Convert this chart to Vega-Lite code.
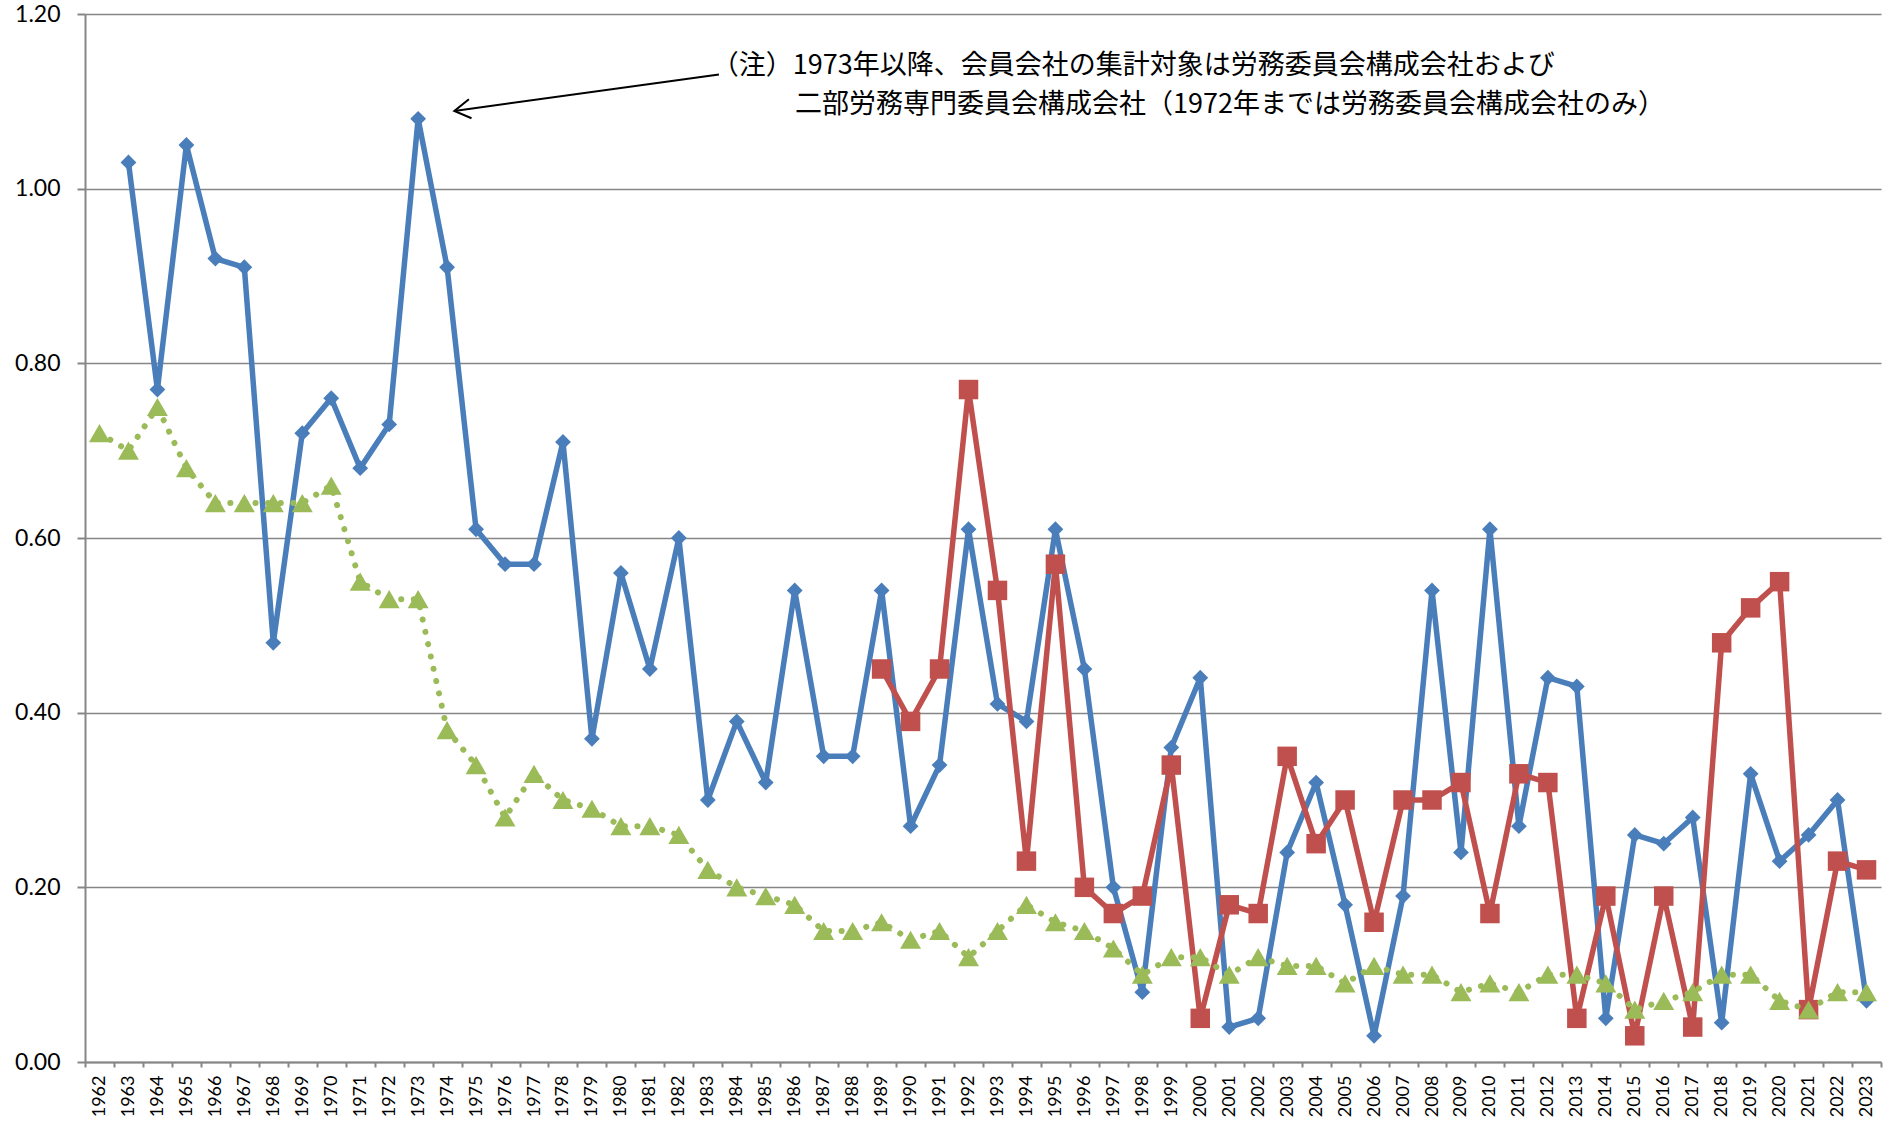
{
  "$schema": "https://vega.github.io/schema/vega-lite/v6.json",
  "width": 1796,
  "height": 1048,
  "autosize": {"type": "none"},
  "padding": {"left": 85, "top": 14, "right": 7, "bottom": 63},
  "background": "white",
  "config": {
    "view": {"stroke": null},
    "axis": {
      "domainColor": "#868686",
      "domainWidth": 2,
      "tickColor": "#868686",
      "tickWidth": 2,
      "gridColor": "#868686",
      "gridWidth": 1.5,
      "labelColor": "#000000",
      "labelFont": "Lato"
    }
  },
  "datasets": {
    "series": [
      {"s": "系列1", "year": 1963, "value": 1.03}, {"s": "系列1", "year": 1964, "value": 0.77}, {"s": "系列1", "year": 1965, "value": 1.05},
      {"s": "系列1", "year": 1966, "value": 0.92}, {"s": "系列1", "year": 1967, "value": 0.91}, {"s": "系列1", "year": 1968, "value": 0.48},
      {"s": "系列1", "year": 1969, "value": 0.72}, {"s": "系列1", "year": 1970, "value": 0.76}, {"s": "系列1", "year": 1971, "value": 0.68},
      {"s": "系列1", "year": 1972, "value": 0.73}, {"s": "系列1", "year": 1973, "value": 1.08}, {"s": "系列1", "year": 1974, "value": 0.91},
      {"s": "系列1", "year": 1975, "value": 0.61}, {"s": "系列1", "year": 1976, "value": 0.57}, {"s": "系列1", "year": 1977, "value": 0.57},
      {"s": "系列1", "year": 1978, "value": 0.71}, {"s": "系列1", "year": 1979, "value": 0.37}, {"s": "系列1", "year": 1980, "value": 0.56},
      {"s": "系列1", "year": 1981, "value": 0.45}, {"s": "系列1", "year": 1982, "value": 0.60}, {"s": "系列1", "year": 1983, "value": 0.30},
      {"s": "系列1", "year": 1984, "value": 0.39}, {"s": "系列1", "year": 1985, "value": 0.32}, {"s": "系列1", "year": 1986, "value": 0.54},
      {"s": "系列1", "year": 1987, "value": 0.35}, {"s": "系列1", "year": 1988, "value": 0.35}, {"s": "系列1", "year": 1989, "value": 0.54},
      {"s": "系列1", "year": 1990, "value": 0.27}, {"s": "系列1", "year": 1991, "value": 0.34}, {"s": "系列1", "year": 1992, "value": 0.61},
      {"s": "系列1", "year": 1993, "value": 0.41}, {"s": "系列1", "year": 1994, "value": 0.39}, {"s": "系列1", "year": 1995, "value": 0.61},
      {"s": "系列1", "year": 1996, "value": 0.45}, {"s": "系列1", "year": 1997, "value": 0.20}, {"s": "系列1", "year": 1998, "value": 0.08},
      {"s": "系列1", "year": 1999, "value": 0.36}, {"s": "系列1", "year": 2000, "value": 0.44}, {"s": "系列1", "year": 2001, "value": 0.04},
      {"s": "系列1", "year": 2002, "value": 0.05}, {"s": "系列1", "year": 2003, "value": 0.24}, {"s": "系列1", "year": 2004, "value": 0.32},
      {"s": "系列1", "year": 2005, "value": 0.18}, {"s": "系列1", "year": 2006, "value": 0.03}, {"s": "系列1", "year": 2007, "value": 0.19},
      {"s": "系列1", "year": 2008, "value": 0.54}, {"s": "系列1", "year": 2009, "value": 0.24}, {"s": "系列1", "year": 2010, "value": 0.61},
      {"s": "系列1", "year": 2011, "value": 0.27}, {"s": "系列1", "year": 2012, "value": 0.44}, {"s": "系列1", "year": 2013, "value": 0.43},
      {"s": "系列1", "year": 2014, "value": 0.05}, {"s": "系列1", "year": 2015, "value": 0.26}, {"s": "系列1", "year": 2016, "value": 0.25},
      {"s": "系列1", "year": 2017, "value": 0.28}, {"s": "系列1", "year": 2018, "value": 0.045}, {"s": "系列1", "year": 2019, "value": 0.33},
      {"s": "系列1", "year": 2020, "value": 0.23}, {"s": "系列1", "year": 2021, "value": 0.26}, {"s": "系列1", "year": 2022, "value": 0.30},
      {"s": "系列1", "year": 2023, "value": 0.07},

      {"s": "系列2", "year": 1989, "value": 0.45}, {"s": "系列2", "year": 1990, "value": 0.39}, {"s": "系列2", "year": 1991, "value": 0.45},
      {"s": "系列2", "year": 1992, "value": 0.77}, {"s": "系列2", "year": 1993, "value": 0.54}, {"s": "系列2", "year": 1994, "value": 0.23},
      {"s": "系列2", "year": 1995, "value": 0.57}, {"s": "系列2", "year": 1996, "value": 0.20}, {"s": "系列2", "year": 1997, "value": 0.17},
      {"s": "系列2", "year": 1998, "value": 0.19}, {"s": "系列2", "year": 1999, "value": 0.34}, {"s": "系列2", "year": 2000, "value": 0.05},
      {"s": "系列2", "year": 2001, "value": 0.18}, {"s": "系列2", "year": 2002, "value": 0.17}, {"s": "系列2", "year": 2003, "value": 0.35},
      {"s": "系列2", "year": 2004, "value": 0.25}, {"s": "系列2", "year": 2005, "value": 0.30}, {"s": "系列2", "year": 2006, "value": 0.16},
      {"s": "系列2", "year": 2007, "value": 0.30}, {"s": "系列2", "year": 2008, "value": 0.30}, {"s": "系列2", "year": 2009, "value": 0.32},
      {"s": "系列2", "year": 2010, "value": 0.17}, {"s": "系列2", "year": 2011, "value": 0.33}, {"s": "系列2", "year": 2012, "value": 0.32},
      {"s": "系列2", "year": 2013, "value": 0.05}, {"s": "系列2", "year": 2014, "value": 0.19}, {"s": "系列2", "year": 2015, "value": 0.03},
      {"s": "系列2", "year": 2016, "value": 0.19}, {"s": "系列2", "year": 2017, "value": 0.04}, {"s": "系列2", "year": 2018, "value": 0.48},
      {"s": "系列2", "year": 2019, "value": 0.52}, {"s": "系列2", "year": 2020, "value": 0.55}, {"s": "系列2", "year": 2021, "value": 0.06},
      {"s": "系列2", "year": 2022, "value": 0.23}, {"s": "系列2", "year": 2023, "value": 0.22},

      {"s": "系列3", "year": 1962, "value": 0.72}, {"s": "系列3", "year": 1963, "value": 0.70}, {"s": "系列3", "year": 1964, "value": 0.75},
      {"s": "系列3", "year": 1965, "value": 0.68}, {"s": "系列3", "year": 1966, "value": 0.64}, {"s": "系列3", "year": 1967, "value": 0.64},
      {"s": "系列3", "year": 1968, "value": 0.64}, {"s": "系列3", "year": 1969, "value": 0.64}, {"s": "系列3", "year": 1970, "value": 0.66},
      {"s": "系列3", "year": 1971, "value": 0.55}, {"s": "系列3", "year": 1972, "value": 0.53}, {"s": "系列3", "year": 1973, "value": 0.53},
      {"s": "系列3", "year": 1974, "value": 0.38}, {"s": "系列3", "year": 1975, "value": 0.34}, {"s": "系列3", "year": 1976, "value": 0.28},
      {"s": "系列3", "year": 1977, "value": 0.33}, {"s": "系列3", "year": 1978, "value": 0.30}, {"s": "系列3", "year": 1979, "value": 0.29},
      {"s": "系列3", "year": 1980, "value": 0.27}, {"s": "系列3", "year": 1981, "value": 0.27}, {"s": "系列3", "year": 1982, "value": 0.26},
      {"s": "系列3", "year": 1983, "value": 0.22}, {"s": "系列3", "year": 1984, "value": 0.20}, {"s": "系列3", "year": 1985, "value": 0.19},
      {"s": "系列3", "year": 1986, "value": 0.18}, {"s": "系列3", "year": 1987, "value": 0.15}, {"s": "系列3", "year": 1988, "value": 0.15},
      {"s": "系列3", "year": 1989, "value": 0.16}, {"s": "系列3", "year": 1990, "value": 0.14}, {"s": "系列3", "year": 1991, "value": 0.15},
      {"s": "系列3", "year": 1992, "value": 0.12}, {"s": "系列3", "year": 1993, "value": 0.15}, {"s": "系列3", "year": 1994, "value": 0.18},
      {"s": "系列3", "year": 1995, "value": 0.16}, {"s": "系列3", "year": 1996, "value": 0.15}, {"s": "系列3", "year": 1997, "value": 0.13},
      {"s": "系列3", "year": 1998, "value": 0.10}, {"s": "系列3", "year": 1999, "value": 0.12}, {"s": "系列3", "year": 2000, "value": 0.12},
      {"s": "系列3", "year": 2001, "value": 0.10}, {"s": "系列3", "year": 2002, "value": 0.12}, {"s": "系列3", "year": 2003, "value": 0.11},
      {"s": "系列3", "year": 2004, "value": 0.11}, {"s": "系列3", "year": 2005, "value": 0.09}, {"s": "系列3", "year": 2006, "value": 0.11},
      {"s": "系列3", "year": 2007, "value": 0.10}, {"s": "系列3", "year": 2008, "value": 0.10}, {"s": "系列3", "year": 2009, "value": 0.08},
      {"s": "系列3", "year": 2010, "value": 0.09}, {"s": "系列3", "year": 2011, "value": 0.08}, {"s": "系列3", "year": 2012, "value": 0.10},
      {"s": "系列3", "year": 2013, "value": 0.10}, {"s": "系列3", "year": 2014, "value": 0.09}, {"s": "系列3", "year": 2015, "value": 0.06},
      {"s": "系列3", "year": 2016, "value": 0.07}, {"s": "系列3", "year": 2017, "value": 0.08}, {"s": "系列3", "year": 2018, "value": 0.10},
      {"s": "系列3", "year": 2019, "value": 0.10}, {"s": "系列3", "year": 2020, "value": 0.07}, {"s": "系列3", "year": 2021, "value": 0.06},
      {"s": "系列3", "year": 2022, "value": 0.08}, {"s": "系列3", "year": 2023, "value": 0.08}
    ],
    "arrow": [
      {"year": 1974.25, "value": 1.089, "year2": 1983.385, "value2": 1.1308}
    ],
    "note": [
      {"year": 1983.14, "value": 1.1408, "label": "（注）1973年以降、会員会社の集計対象は労務委員会構成会社および"},
      {"year": 1986.01, "value": 1.0963, "label": "二部労務専門委員会構成会社（1972年までは労務委員会構成会社のみ）"}
    ]
  },
  "encoding": {
    "x": {
      "field": "year",
      "type": "quantitative",
      "scale": {"domain": [1961.5, 2023.5], "nice": false, "zero": false},
      "axis": {
        "title": null,
        "grid": false,
        "values": [1961.5, 1962.5, 1963.5, 1964.5, 1965.5, 1966.5, 1967.5, 1968.5, 1969.5, 1970.5, 1971.5, 1972.5, 1973.5, 1974.5, 1975.5, 1976.5, 1977.5, 1978.5, 1979.5, 1980.5, 1981.5, 1982.5, 1983.5, 1984.5, 1985.5, 1986.5, 1987.5, 1988.5, 1989.5, 1990.5, 1991.5, 1992.5, 1993.5, 1994.5, 1995.5, 1996.5, 1997.5, 1998.5, 1999.5, 2000.5, 2001.5, 2002.5, 2003.5, 2004.5, 2005.5, 2006.5, 2007.5, 2008.5, 2009.5, 2010.5, 2011.5, 2012.5, 2013.5, 2014.5, 2015.5, 2016.5, 2017.5, 2018.5, 2019.5, 2020.5, 2021.5, 2022.5, 2023.5],
        "labelExpr": "datum.value < 2023 ? format(datum.value + 0.5, 'd') : ''",
        "labelAngle": -90,
        "labelOffset": 14.484,
        "labelFontSize": 18,
        "labelPadding": 8,
        "tickSize": 5,
        "labelOverlap": false,
        "labelBound": false,
        "labelFlush": false
      }
    },
    "y": {
      "field": "value",
      "type": "quantitative",
      "scale": {"domain": [0, 1.2], "nice": false, "zero": true},
      "axis": {
        "title": null,
        "grid": true,
        "values": [0, 0.2, 0.4, 0.6, 0.8, 1.0, 1.2],
        "format": ".2f",
        "labelFontSize": 23,
        "labelPadding": 17,
        "tickSize": 8
      }
    }
  },
  "layer": [
    {
      "data": {"values": [{}]},
      "mark": {"type": "rule", "color": "#000000", "strokeWidth": 2},
      "encoding": {
        "x": {"datum": 1961.5, "type": "quantitative"},
        "x2": {"datum": 2023.5},
        "y": {"datum": 1.2, "type": "quantitative"}
      }
    },
    {
      "data": {"values": [{}]},
      "mark": {"type": "rule", "color": "#000000", "strokeWidth": 2},
      "encoding": {
        "x": {"datum": 2023.5, "type": "quantitative"},
        "y": {"datum": 0, "type": "quantitative"},
        "y2": {"datum": 1.2}
      }
    },
    {
      "data": {"name": "series"},
      "transform": [{"filter": "datum.s === '系列1'"}],
      "mark": {
        "type": "line",
        "color": "#4A7EBB",
        "strokeWidth": 5.5,
        "strokeJoin": "round",
        "point": {"shape": "diamond", "size": 250, "filled": true, "color": "#4A7EBB"}
      }
    },
    {
      "data": {"name": "series"},
      "transform": [{"filter": "datum.s === '系列2'"}],
      "mark": {
        "type": "line",
        "color": "#C0504D",
        "strokeWidth": 5.5,
        "strokeJoin": "round",
        "point": {"shape": "square", "size": 380, "filled": true, "color": "#C0504D"}
      }
    },
    {
      "data": {"name": "series"},
      "transform": [{"filter": "datum.s === '系列3'"}],
      "mark": {
        "type": "line",
        "color": "#9BBB59",
        "strokeWidth": 6,
        "strokeCap": "round",
        "strokeDash": [0.1, 12.5],
        "point": {"shape": "triangle-up", "size": 440, "filled": true, "color": "#9BBB59"}
      }
    },
    {
      "data": {"name": "arrow"},
      "mark": {"type": "rule", "color": "#000000", "strokeWidth": 2},
      "encoding": {
        "x2": {"field": "year2"},
        "y2": {"field": "value2"}
      }
    },
    {
      "data": {"name": "arrow"},
      "mark": {
        "type": "point",
        "shape": "M-1,-0.6L0,0L-1,0.6",
        "size": 1024,
        "filled": false,
        "color": "#000000",
        "strokeWidth": 2,
        "opacity": 1,
        "angle": 172.2
      }
    },
    {
      "data": {"name": "note"},
      "mark": {
        "type": "text",
        "align": "left",
        "baseline": "middle",
        "font": "Noto Sans CJK JP",
        "fontSize": 27,
        "color": "#000000"
      },
      "encoding": {"text": {"field": "label"}}
    }
  ]
}
